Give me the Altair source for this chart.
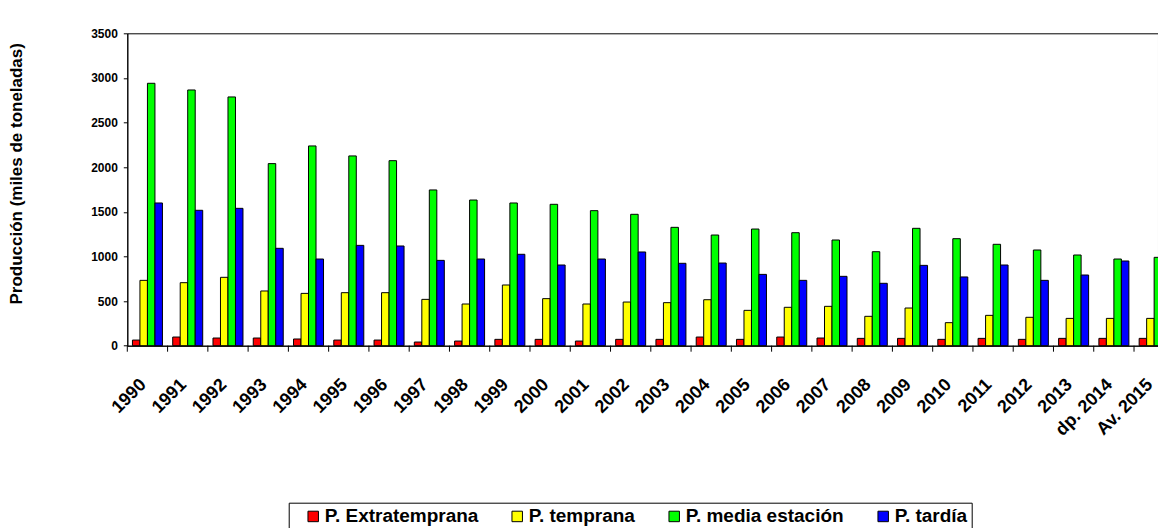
import altair as alt
import pandas as pd

years = ["1990", "1991", "1992", "1993", "1994", "1995", "1996", "1997", "1998",
         "1999", "2000", "2001", "2002", "2003", "2004", "2005", "2006", "2007",
         "2008", "2009", "2010", "2011", "2012", "2013", "dp. 2014", "Av. 2015"]
series = ["P. Extratemprana", "P. temprana", "P. media estación", "P. tardía"]
colors = ["#FF0000", "#FFFF00", "#00FF00", "#0000FF"]

extratemprana = [63, 97, 86, 86, 75, 63, 63, 41, 52, 71, 71, 52, 71, 71, 97, 71,
                 97, 86, 82, 82, 71, 82, 71, 82, 82, 82]
temprana = [732, 706, 766, 613, 586, 594, 594, 519, 467, 680, 527, 467, 489, 482,
            515, 396, 430, 441, 329, 422, 258, 340, 318, 306, 306, 306]
media = [2940, 2865, 2787, 2040, 2238, 2126, 2073, 1745, 1632, 1599, 1584, 1513,
         1472, 1326, 1240, 1307, 1266, 1184, 1053, 1315, 1199, 1136, 1072, 1016,
         971, 990]
tardia = [1599, 1517, 1539, 1091, 971, 1124, 1117, 956, 971, 1024, 904, 971, 1050,
          923, 926, 799, 732, 777, 699, 900, 770, 904, 732, 792, 949, 826]

y_ticks = [0, 500, 1000, 1500, 2000, 2500, 3000, 3500]

rows = []
for name, vals in zip(series, [extratemprana, temprana, media, tardia]):
    for yr, v in zip(years, vals):
        rows.append({"year": yr, "serie": name, "valor": v})
df = pd.DataFrame(rows)
ticks_df = pd.DataFrame({"year": years})

FONT = "Liberation Sans"
FULL_W = 1047          # full category axis (extends past the page edge)
W, H = 1030.7, 312.4   # visible part of the plot

x_enc = alt.X("year:N", sort=years,
              scale=alt.Scale(paddingInner=0, paddingOuter=0, range=[0, FULL_W]),
              axis=alt.Axis(title=None, labelAngle=-45, labelAlign="right",
                            labelBaseline="middle", labelFont=FONT,
                            labelFontSize=18, labelFontWeight="bold",
                            labelColor="black", labelPadding=36, labelOffset=-4,
                            ticks=False, domainColor="black", labelOverlap=False))

bars = alt.Chart(df).mark_bar(stroke="black", strokeWidth=1, opacity=1).encode(
    x=x_enc,
    xOffset=alt.XOffset("serie:N", sort=series,
                        scale=alt.Scale(paddingOuter=0.685, paddingInner=0)),
    y=alt.Y("valor:Q",
            scale=alt.Scale(domain=[0, 3500], nice=False),
            axis=alt.Axis(values=y_ticks, format="d",
                          title="Producción (miles de toneladas)",
                          titleFont=FONT, titleFontSize=17, titleFontWeight="bold",
                          titleColor="black", titleAngle=270, titleAlign="center",
                          titleBaseline="middle", titleX=-111, titleY=140,
                          labelFont=FONT, labelFontSize=12, labelFontWeight="bold",
                          labelColor="black", labelPadding=6, tickSize=4,
                          tickColor="black", domainColor="black", grid=False)),
    color=alt.Color("serie:N", sort=series,
                    scale=alt.Scale(domain=series, range=colors),
                    legend=alt.Legend(orient="none", legendX=161.4, legendY=469.4,
                                      direction="horizontal", title=None,
                                      symbolType="square", symbolSize=110,
                                      symbolStrokeColor="black", symbolStrokeWidth=1,
                                      symbolOpacity=1, labelFont=FONT,
                                      labelFontSize=19, labelFontWeight="bold",
                                      labelColor="black", strokeColor="black",
                                      fillColor="white", padding=4,
                                      symbolOffset=11, labelOffset=2,
                                      columnPadding=18)),
)

tick_marks = alt.Chart(ticks_df).mark_rule(color="black", strokeWidth=1).encode(
    x=alt.X("year:N", sort=years, bandPosition=0),
    y=alt.value(H),
    y2=alt.value(H + 6),
)

chart = alt.layer(bars, tick_marks).properties(
    width=W, height=H,
    autosize=alt.AutoSizeParams(type="none"),
    padding={"left": 119.3, "top": 25.3, "right": 0, "bottom": 182},
    background="white",
).configure_view(stroke="black", strokeWidth=1)

chart.save("out.html", embed_options={"renderer": "svg", "actions": False})
